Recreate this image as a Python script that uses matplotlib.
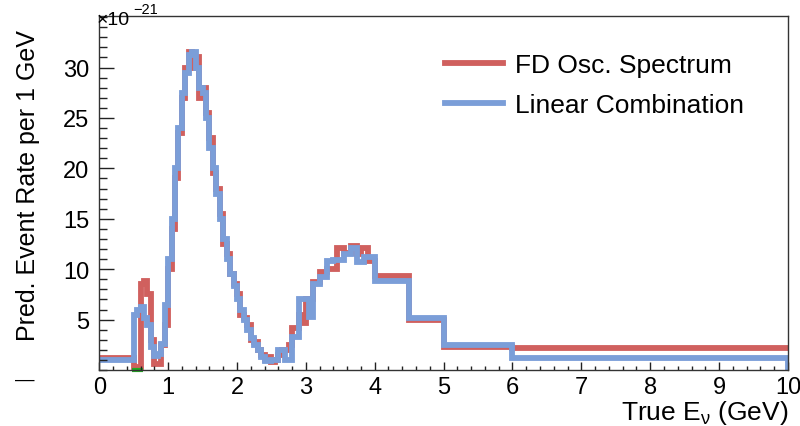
import numpy as np
import matplotlib
matplotlib.use("Agg")
import matplotlib.pyplot as plt
from matplotlib.ticker import MultipleLocator

plt.rcParams['font.family'] = ['Liberation Sans', 'DejaVu Sans']
plt.rcParams['mathtext.fontset'] = 'custom'
plt.rcParams['mathtext.rm'] = 'Liberation Sans'
plt.rcParams['mathtext.it'] = 'Liberation Sans:italic'

# bin edges (GeV): one wide bin, fine 0.05 bins up to 4 GeV, then wide bins
fine_edges = np.round(np.arange(0.5, 4.0001, 0.05), 3)
edges = np.concatenate([[0.0], fine_edges, [4.5, 5.0, 6.0, 10.0]])

# event rate per 1 GeV, in units of 1e-21
fd_osc = [1.2,
          0.3, 0.3, 8.5, 8.8, 7.5, 3.0, 0.6, 0.6, 2.5, 4.5,
          10.0, 14.0, 19.0, 23.5, 27.0, 30.0, 31.5, 30.0, 31.0, 27.0,
          28.0, 25.5, 23.0, 19.5, 18.0, 15.5, 12.5, 11.5, 9.5, 8.5,
          7.5, 5.5, 5.2, 4.5, 3.0, 2.8, 2.0, 1.5, 1.0, 1.3,
          0.8, 1.0, 1.5, 2.0, 2.0, 2.5, 4.2, 4.2, 5.5, 4.7,
          7.0, 7.0, 8.7, 8.7, 9.7, 9.7, 10.0, 10.0, 10.0, 12.1,
          12.1, 11.6, 11.6, 12.3, 12.3, 11.5, 12.1, 12.1, 10.8, 10.8,
          9.3, 5.0, 2.3, 2.2]
lin_comb = [1.0,
            5.5, 6.0, 6.3, 5.2, 4.5, 2.3, 1.4, 1.6, 2.6, 6.5,
            11.0, 15.0, 20.0, 24.0, 27.5, 29.5, 31.2, 31.5, 30.0, 28.0,
            27.5, 25.0, 22.0, 20.0, 17.5, 15.0, 13.0, 11.0, 9.5, 8.3,
            7.0, 6.0, 5.0, 4.0, 3.2, 2.5, 2.0, 1.3, 0.9, 0.9,
            1.0, 1.0, 2.0, 2.0, 1.0, 1.0, 3.3, 3.3, 7.0, 7.0,
            7.0, 5.3, 8.5, 8.5, 9.2, 9.2, 10.8, 10.8, 10.9, 10.9,
            10.9, 11.5, 11.5, 12.1, 12.1, 10.7, 10.7, 11.2, 11.2, 11.2,
            8.8, 5.2, 2.5, 1.2]

# small green histogram sitting on the axis
green_edges = [0.47, 0.63]
green_vals = [0.0]

red = '#d0605e'
blue = '#7b9ed8'

fig = plt.figure(figsize=(8, 4.27), dpi=100)
ax = fig.add_axes([0.124, 0.131, 0.861, 0.829])

ax.stairs(fd_osc, edges, color=red, lw=4.2, baseline=None, label='FD Osc. Spectrum')
ax.stairs(lin_comb, edges, color=blue, lw=4.2, baseline=None, label='Linear Combination')
ax.vlines(edges[-1], 0, lin_comb[-1], color=blue, lw=4.2)
ax.stairs(green_vals, green_edges, color='#22aa22', lw=3, baseline=None, clip_on=False)

ax.set_xlim(0, 10)
ax.set_ylim(0, 35.1)

ax.set_xticks(np.arange(0, 11, 1))
ax.xaxis.set_minor_locator(MultipleLocator(0.2))
ax.set_yticks(np.arange(5, 31, 5))
ax.yaxis.set_minor_locator(MultipleLocator(1))
ax.tick_params(axis='both', which='both', direction='in', labelsize=17, color='#222222')
ax.tick_params(axis='x', which='major', length=6, width=1, pad=4)
ax.tick_params(axis='x', which='minor', length=3, width=1)
ax.tick_params(axis='y', which='major', length=11, width=1, pad=7)
ax.tick_params(axis='y', which='minor', length=5.5, width=1)
for s in ax.spines.values():
    s.set_color('#333333')
    s.set_linewidth(1)

ax.set_xlabel('True E$_{\\mathrm{\u03bd}}$ (GeV)', fontsize=19, loc='right', labelpad=0)
ax.set_ylabel('Pred. Event Rate per 1 GeV', fontsize=18, loc='top')
ax.yaxis.set_label_coords(-0.086, 0.963)

# ROOT style exponent above the y axis
fig.text(97 / 800, 1 - 25 / 427, '\u00d710', fontsize=14, ha='left', va='baseline')
fig.text(133 / 800, 1 - 14 / 427, '\u221221', fontsize=10.5, ha='left', va='baseline')
fig.text(25 / 800, 1 - 380 / 427, '\u2014', fontsize=14, ha='center', va='center')

leg = ax.legend(loc='upper left', bbox_to_anchor=(0.467, 0.963), frameon=False,
                fontsize=19, handlelength=2.2, handletextpad=0.45, labelspacing=0.6)

fig.savefig('out.png', dpi=100)
